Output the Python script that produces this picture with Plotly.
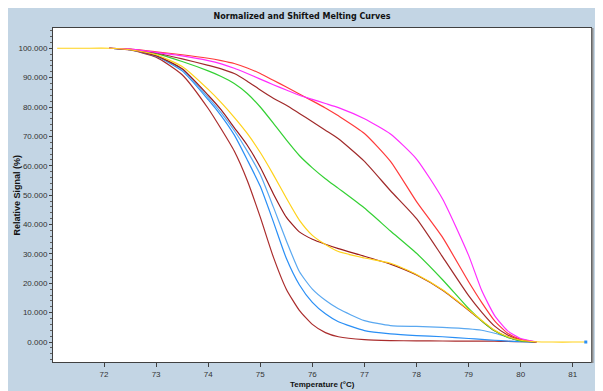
import plotly.graph_objects as go

# Temperature grid (°C) shared by most curves
temps = [72.1, 72.5, 73.0, 73.5, 74.0, 74.25, 74.5, 74.75, 75.0, 75.25, 75.5, 75.75,
         76.0, 76.25, 76.5, 77.0, 77.5, 78.0, 78.5, 79.0, 79.25, 79.5, 79.75, 80.0, 80.3]

curve_darkred_a = [100, 99.4, 97.0, 91.0, 79.5, 72.5, 65.0, 55.0, 42.5, 29.0, 18.0, 10.8,
                   6.0, 3.2, 1.8, 0.8, 0.5, 0.4, 0.35, 0.3, 0.3, 0.3, 0.2, 0.1, 0.0]
curve_blue_low = [100, 99.5, 97.3, 92.3, 82.5, 77.0, 70.5, 62.0, 53.0, 41.0, 28.5, 19.5,
                  13.5, 9.6, 6.9, 3.9, 2.8, 2.2, 1.8, 1.2, 0.9, 0.6, 0.3, 0.1, 0.0]
curve_blue_high = [100, 99.5, 97.5, 92.8, 83.2, 78.0, 72.0, 65.0, 57.0, 46.0, 34.5, 24.0,
                   18.0, 14.2, 11.3, 7.3, 5.6, 5.3, 5.0, 4.5, 4.0, 3.0, 1.7, 0.3, 0.0]
curve_darkred_d = [100, 99.5, 97.5, 93.0, 84.0, 79.0, 73.0, 67.0, 59.5, 50.5, 42.5, 37.5,
                   35.0, 33.3, 31.8, 29.2, 26.5, 22.8, 17.6, 10.8, 7.2, 3.8, 1.7, 0.5, 0.0]
curve_green = [100, 99.6, 98.2, 95.5, 92.3, 90.4, 88.0, 84.6, 80.0, 74.5, 68.8, 63.5,
               59.3, 55.6, 52.3, 45.6, 37.8, 30.2, 21.2, 11.4, 7.2, 3.8, 1.6, 0.4, 0.0]
curve_brown_f = [100, 99.6, 98.4, 96.4, 94.2, 93.0, 91.4, 88.8, 85.8, 83.0, 80.6, 77.8,
                 75.0, 72.1, 69.2, 61.5, 51.5, 42.0, 29.0, 15.8, 10.2, 5.4, 2.4, 0.7, 0.0]
curve_red = [100, 99.7, 98.8, 97.8, 96.6, 95.8, 94.8, 93.3, 91.4, 89.1, 86.8, 84.4,
             82.1, 79.7, 77.0, 71.0, 61.5, 47.8, 35.6, 20.5, 13.5, 7.2, 3.0, 0.9, 0.0]
curve_magenta = [100, 99.7, 98.6, 97.4, 95.8, 94.7, 93.2, 91.4, 89.5, 87.6, 85.8, 84.0,
                 82.6, 81.2, 79.8, 76.0, 70.8, 62.3, 48.7, 29.5, 17.6, 9.0, 3.8, 1.2, 0.1]

# Yellow curve spans the full temperature range
yellow_temps = [71.1, 71.6, 72.1, 72.5, 73.0, 73.5, 74.0, 74.25, 74.5, 74.75, 75.0, 75.25,
                75.5, 75.75, 76.0, 76.25, 76.5, 77.0, 77.5, 78.0, 78.5, 79.0, 79.25, 79.5,
                79.75, 80.0, 80.3, 80.6, 81.0, 81.25]
curve_yellow = [100, 100, 100, 99.5, 97.8, 93.8, 86.0, 81.5, 76.5, 71.0, 64.5, 57.0,
                49.0, 41.5, 36.3, 33.2, 30.8, 28.6, 26.8, 23.0, 17.8, 11.0, 7.4, 4.0,
                1.8, 0.6, 0.1, 0.0, 0.0, 0.0]

y_ticks = [0, 10, 20, 30, 40, 50, 60, 70, 80, 90, 100]
x_ticks = [72, 73, 74, 75, 76, 77, 78, 79, 80, 81]

series = [
    ("Sample 1", curve_darkred_a, "#aa2c2c"),
    ("Sample 2", curve_blue_low, "#2a8ff5"),
    ("Sample 3", curve_blue_high, "#5aa8f0"),
    ("Sample 4", curve_darkred_d, "#9a1c1c"),
    ("Sample 5", curve_green, "#33d033"),
    ("Sample 6", curve_brown_f, "#a02a2a"),
    ("Sample 7", curve_red, "#ff3a3a"),
    ("Sample 8", curve_magenta, "#ff2cff"),
]

fig = go.Figure()
for name, vals, col in series:
    fig.add_trace(go.Scatter(x=temps, y=vals, mode="lines", name=name,
                             line=dict(color=col, width=1.2, shape="spline", smoothing=0.55)))
fig.add_trace(go.Scatter(x=yellow_temps, y=curve_yellow, mode="lines", name="Sample 9",
                         line=dict(color="#ffd21a", width=1.2, shape="spline", smoothing=0.55)))
fig.add_trace(go.Scatter(x=yellow_temps[-1:], y=curve_yellow[-1:], mode="markers",
                         marker=dict(color="#2a8ff5", size=3, symbol="square"),
                         showlegend=False))

BLUE = "#c3d5e4"
tickfont = dict(family="Liberation Sans, Arial", size=8, color="#333333")
PLOT_H = 334
PLOT_W = 538

# The page body adds an 8px offset, so figure coordinates are page coordinates minus 8.
fig.update_layout(
    width=603, height=391,
    margin=dict(l=45, r=20, t=20, b=37),
    paper_bgcolor=BLUE, plot_bgcolor="white",
    showlegend=False,
    title=dict(text="<b>Normalized and Shifted Melting Curves</b>",
               x=294 / 603, xref="container", xanchor="center",
               y=1 - 8.5 / 391, yref="container", yanchor="middle",
               font=dict(family="DejaVu Sans, Liberation Sans", size=8, color="#111111")),
    xaxis=dict(range=[71.02, 81.35], tickvals=x_ticks, ticktext=[str(t) for t in x_ticks],
               showgrid=False, zeroline=False, showline=True, linecolor="#404040",
               linewidth=1, mirror=True, ticks="outside", ticklen=4, tickcolor="#404040",
               tickfont=tickfont, automargin=False),
    yaxis=dict(range=[-6.8, 106.9], tickvals=y_ticks, ticktext=[f"{t:.3f}" for t in y_ticks],
               showgrid=False, zeroline=False, showline=True, linecolor="#404040",
               linewidth=1, mirror=True, ticks="outside", ticklen=3, tickcolor="#404040",
               tickfont=tickfont, automargin=False,
               minor=dict(dtick=2, ticks="outside", ticklen=2, tickcolor="#606060")),
    annotations=[
        dict(text="<b>Temperature (°C)</b>", x=0.5, xref="paper", y=(362 - 384) / PLOT_H,
             yref="paper", yanchor="middle", showarrow=False,
             font=dict(family="Liberation Sans, Arial", size=8, color="#111111")),
        dict(text="<b>Relative Signal (%)</b>", x=(16 - 53) / PLOT_W, xref="paper",
             xanchor="center", y=(362 - 195.5) / PLOT_H, yref="paper", yanchor="middle",
             textangle=-90, showarrow=False,
             font=dict(family="Liberation Sans, Arial", size=9, color="#111111")),
    ],
    shapes=[
        dict(type="line", xref="paper", yref="paper", x0=1 + 1.5 / PLOT_W, x1=1 + 1.5 / PLOT_W,
             y0=-0.003, y1=1.0, line=dict(color="#8c8c8c", width=2)),
    ],
)

fig.write_html("out.html")
